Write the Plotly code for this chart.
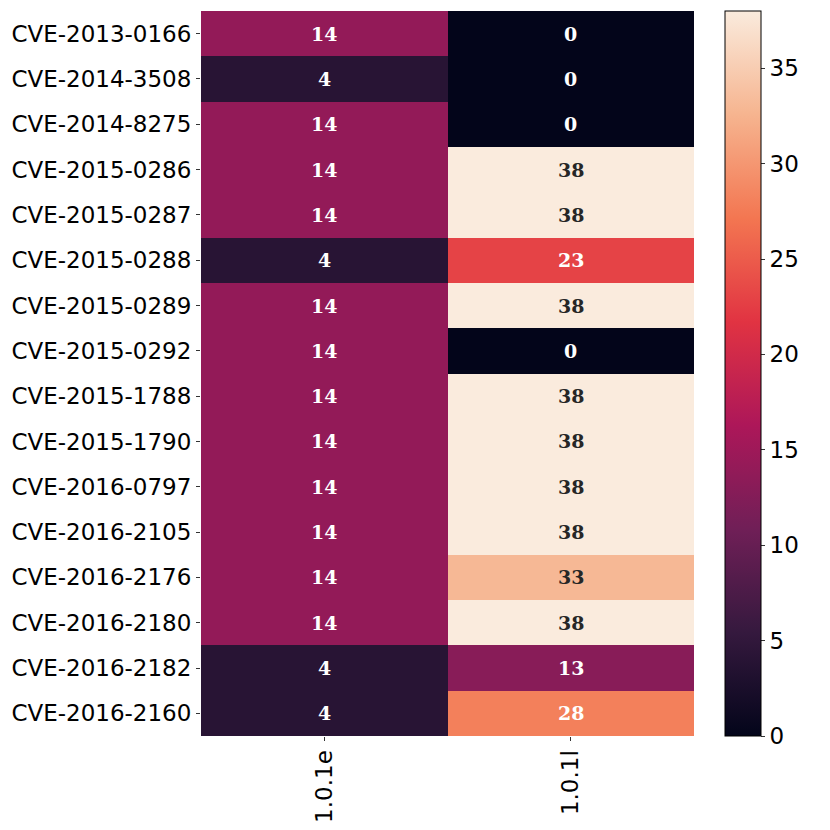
import plotly.graph_objects as go

# Data
cves = ["CVE-2013-0166", "CVE-2014-3508", "CVE-2014-8275", "CVE-2015-0286",
        "CVE-2015-0287", "CVE-2015-0288", "CVE-2015-0289", "CVE-2015-0292",
        "CVE-2015-1788", "CVE-2015-1790", "CVE-2016-0797", "CVE-2016-2105",
        "CVE-2016-2176", "CVE-2016-2180", "CVE-2016-2182", "CVE-2016-2160"]
versions = ["1.0.1e", "1.0.1l"]
v_101e = [14, 4, 14, 14, 14, 4, 14, 14, 14, 14, 14, 14, 14, 14, 4, 4]
v_101l = [0, 0, 0, 38, 38, 23, 38, 0, 38, 38, 38, 38, 33, 38, 13, 28]

# approx. seaborn "rocket"
rocket = [
    [0.0, "#03051A"], [0.143, "#35193E"], [0.286, "#701F57"],
    [0.429, "#AD1759"], [0.571, "#E13342"], [0.714, "#F37651"],
    [0.857, "#F6B48F"], [1.0, "#FAEBDD"],
]

z = [[a, b] for a, b in zip(v_101e, v_101l)]
zmax = max(max(v_101e), max(v_101l))

tick_font = dict(family="DejaVu Sans", size=23, color="black")

fig = go.Figure(go.Heatmap(
    z=z, x=versions, y=cves,
    colorscale=rocket, zmin=0, zmax=zmax,
    colorbar=dict(
        thickness=36, len=1, lenmode="fraction", y=0.5, yanchor="middle",
        x=1.063, xanchor="left", xpad=0, ypad=0,
        outlinewidth=1, outlinecolor="black",
        tickvals=[0, 5, 10, 15, 20, 25, 30, 35],
        ticks="outside", ticklen=4, tickcolor="#333",
        tickfont=tick_font,
    ),
    hoverinfo="skip",
))

# cell labels: light text on dark cells, dark text on light cells
annotations = []
for cve, a, b in zip(cves, v_101e, v_101l):
    for ver, val in ((versions[0], a), (versions[1], b)):
        col = "#262626" if val / zmax > 0.8 else "white"
        annotations.append(dict(
            x=ver, y=cve, text=f"<b>{val}</b>", showarrow=False,
            font=dict(family="DejaVu Serif", size=19, color=col),
        ))

fig.update_layout(
    width=822, height=822,
    margin=dict(l=193, r=136, t=3, b=94),
    plot_bgcolor="white", paper_bgcolor="white",
    annotations=annotations,
    font=dict(family="DejaVu Sans", size=23, color="black"),
)
fig.update_xaxes(tickangle=-90, ticks="outside", ticklen=4, tickcolor="#333",
                 showgrid=False, zeroline=False, tickfont=tick_font)
fig.update_yaxes(autorange="reversed", ticks="outside", ticklen=4,
                 tickcolor="#333", showgrid=False, zeroline=False,
                 tickfont=tick_font)

fig.write_html("out.html")
